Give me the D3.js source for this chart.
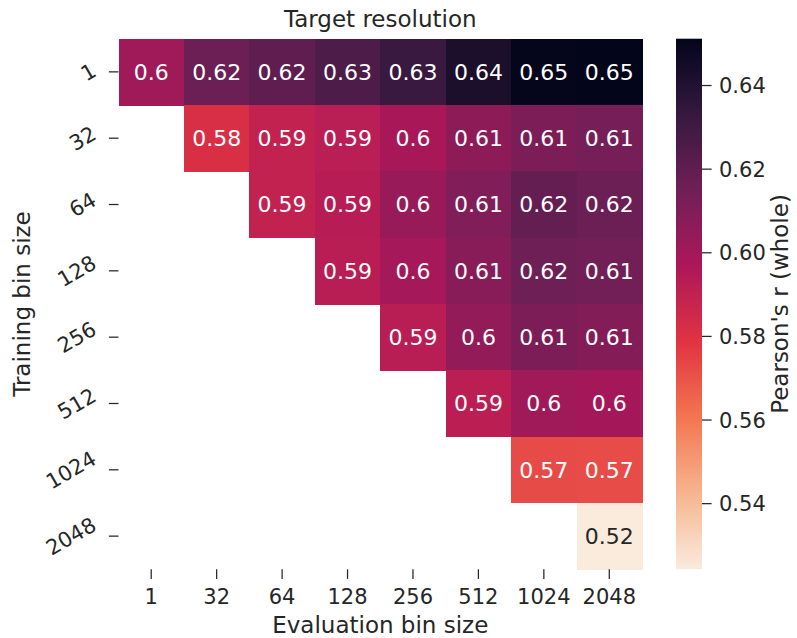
<!DOCTYPE html>
<html>
<head>
<meta charset="utf-8">
<script src="https://cdn.jsdelivr.net/npm/d3@7"></script>
<style>
  html, body { margin: 0; padding: 0; background: #ffffff; }
  svg { display: block; font-family: "DejaVu Sans", sans-serif; }
</style>
</head>
<body>
<svg id="chart" width="797" height="638"></svg>
<script>
// ---------------- data ----------------
const evalBins  = ["1", "32", "64", "128", "256", "512", "1024", "2048"];
const trainBins = ["1", "32", "64", "128", "256", "512", "1024", "2048"];

// Pearson's r (whole), one array per training bin size (row); null = not evaluated
const row1    = [0.6006, 0.6164, 0.6199, 0.6255, 0.6316, 0.6420, 0.6504, 0.6512];
const row32   = [null,   0.5814, 0.5895, 0.5926, 0.5983, 0.6066, 0.6114, 0.6131];
const row64   = [null,   null,   0.5895, 0.5935, 0.6030, 0.6100, 0.6185, 0.6162];
const row128  = [null,   null,   null,   0.5930, 0.5992, 0.6080, 0.6155, 0.6140];
const row256  = [null,   null,   null,   null,   0.5930, 0.6048, 0.6110, 0.6090];
const row512  = [null,   null,   null,   null,   null,   0.5920, 0.6006, 0.5995];
const row1024 = [null,   null,   null,   null,   null,   null,   0.5722, 0.5718];
const row2048 = [null,   null,   null,   null,   null,   null,   null,   0.5243];
const rows = [row1, row32, row64, row128, row256, row512, row1024, row2048];

const cbarTicks = [0.54, 0.56, 0.58, 0.60, 0.62, 0.64];
const titleText = "Target resolution";
const xLabel = "Evaluation bin size";
const yLabel = "Training bin size";
const cbarLabel = "Pearson's r (whole)";

// rocket colormap control points (seaborn)
const rocketStops = ["#03051a", "#35193e", "#701f57", "#ad1759", "#e13342", "#f37651", "#f6b48f", "#faebdd"];

// ---------------- layout ----------------
const svg = d3.select("#chart");
const textColor = "#262626";
const gx0 = 118.5, gx1 = 642, gy0 = 38.7, gy1 = 569.3;
const cbx0 = 676, cbx1 = 702;
const tickLen = 9.6;
const tickFs = 21, annotFs = 22, labelFs = 23;

const cells = [];
rows.forEach((r, i) => r.forEach((v, j) => {
  if (v !== null) cells.push({ row: trainBins[i], col: evalBins[j], value: v });
}));
const allVals = cells.map(d => d.value);
const vmin = d3.min(allVals), vmax = d3.max(allVals);

const rocket = d3.scaleLinear()
  .domain(d3.range(rocketStops.length).map(i => i / (rocketStops.length - 1)))
  .range(rocketStops)
  .interpolate(d3.interpolateRgb)
  .clamp(true);
// rocket_r : low -> light, high -> dark
const color = v => rocket(1 - (v - vmin) / (vmax - vmin));

const x = d3.scaleBand().domain(evalBins).range([gx0, gx1]).padding(0);
const y = d3.scaleBand().domain(trainBins).range([gy0, gy1]).padding(0);

// cells
svg.append("g").selectAll("rect").data(cells).join("rect")
  .attr("x", d => x(d.col))
  .attr("y", d => y(d.row))
  .attr("width", x.bandwidth() + 0.5)
  .attr("height", y.bandwidth() + 0.5)
  .attr("fill", d => color(d.value))
  .attr("shape-rendering", "crispEdges");

// annotations
function lum(c) {
  const rgb = d3.rgb(c);
  const f = u => { u /= 255; return u <= 0.03928 ? u / 12.92 : Math.pow((u + 0.055) / 1.055, 2.4); };
  return 0.2126 * f(rgb.r) + 0.7152 * f(rgb.g) + 0.0722 * f(rgb.b);
}
const fmt = d3.format(".2~g");
svg.append("g").selectAll("text").data(cells).join("text")
  .attr("x", d => x(d.col) + x.bandwidth() / 2)
  .attr("y", d => y(d.row) + y.bandwidth() / 2 + 0.36 * annotFs)
  .attr("text-anchor", "middle")
  .attr("font-size", annotFs)
  .attr("fill", d => lum(color(d.value)) > 0.408 ? textColor : "#ffffff")
  .text(d => fmt(d.value));

// x axis ticks & labels
const xg = svg.append("g");
evalBins.forEach(b => {
  const cx = x(b) + x.bandwidth() / 2;
  xg.append("line").attr("x1", cx).attr("x2", cx).attr("y1", gy1).attr("y2", gy1 + tickLen)
    .attr("stroke", textColor).attr("stroke-width", 1.25);
  xg.append("text").attr("x", cx).attr("y", 604).attr("text-anchor", "middle")
    .attr("font-size", tickFs).attr("fill", textColor).text(b);
});

// y axis ticks & rotated labels
const yg = svg.append("g");
const ang = 30 * Math.PI / 180;
trainBins.forEach(b => {
  const cy = y(b) + y.bandwidth() / 2;
  yg.append("line").attr("x1", gx0 - tickLen).attr("x2", gx0).attr("y1", cy).attr("y2", cy)
    .attr("stroke", textColor).attr("stroke-width", 1.25);
  const t = yg.append("text").attr("text-anchor", "middle")
    .attr("font-size", tickFs).attr("fill", textColor).text(b);
  const w = t.node().getComputedTextLength();
  const h = 0.95 * tickFs;
  const bw = w * Math.cos(ang) + h * Math.sin(ang);
  const cx = 99 - bw / 2;
  t.attr("x", cx).attr("y", cy + 0.36 * tickFs)
   .attr("transform", `rotate(-30, ${cx}, ${cy})`);
});

// title and axis labels
svg.append("text").attr("x", (gx0 + gx1) / 2).attr("y", 27).attr("text-anchor", "middle")
  .attr("font-size", labelFs).attr("fill", textColor).text(titleText);
svg.append("text").attr("x", (gx0 + gx1) / 2).attr("y", 633).attr("text-anchor", "middle")
  .attr("font-size", labelFs).attr("fill", textColor).text(xLabel);
svg.append("text").attr("transform", `translate(30, ${(gy0 + gy1) / 2}) rotate(-90)`)
  .attr("text-anchor", "middle").attr("font-size", labelFs).attr("fill", textColor).text(yLabel);

// colorbar
const cb = d3.scaleLinear().domain([vmin, vmax]).range([gy1, gy0]);
const defs = svg.append("defs");
const grad = defs.append("linearGradient").attr("id", "cbgrad")
  .attr("x1", 0).attr("y1", 1).attr("x2", 0).attr("y2", 0);
d3.range(0, 1.0001, 0.02).forEach(f => {
  grad.append("stop").attr("offset", f).attr("stop-color", color(vmin + f * (vmax - vmin)));
});
svg.append("rect").attr("x", cbx0).attr("y", gy0).attr("width", cbx1 - cbx0).attr("height", gy1 - gy0)
  .attr("fill", "url(#cbgrad)");
const cg = svg.append("g");
cbarTicks.forEach(tv => {
  const ty = cb(tv);
  cg.append("line").attr("x1", cbx1).attr("x2", cbx1 + tickLen).attr("y1", ty).attr("y2", ty)
    .attr("stroke", textColor).attr("stroke-width", 1.25);
  cg.append("text").attr("x", 719).attr("y", ty + 0.36 * tickFs)
    .attr("font-size", tickFs).attr("fill", textColor).text(d3.format(".2f")(tv));
});
svg.append("text").attr("transform", `translate(788, ${(gy0 + gy1) / 2}) rotate(-90)`)
  .attr("text-anchor", "middle").attr("font-size", labelFs).attr("fill", textColor).text(cbarLabel);
</script>
</body>
</html>
